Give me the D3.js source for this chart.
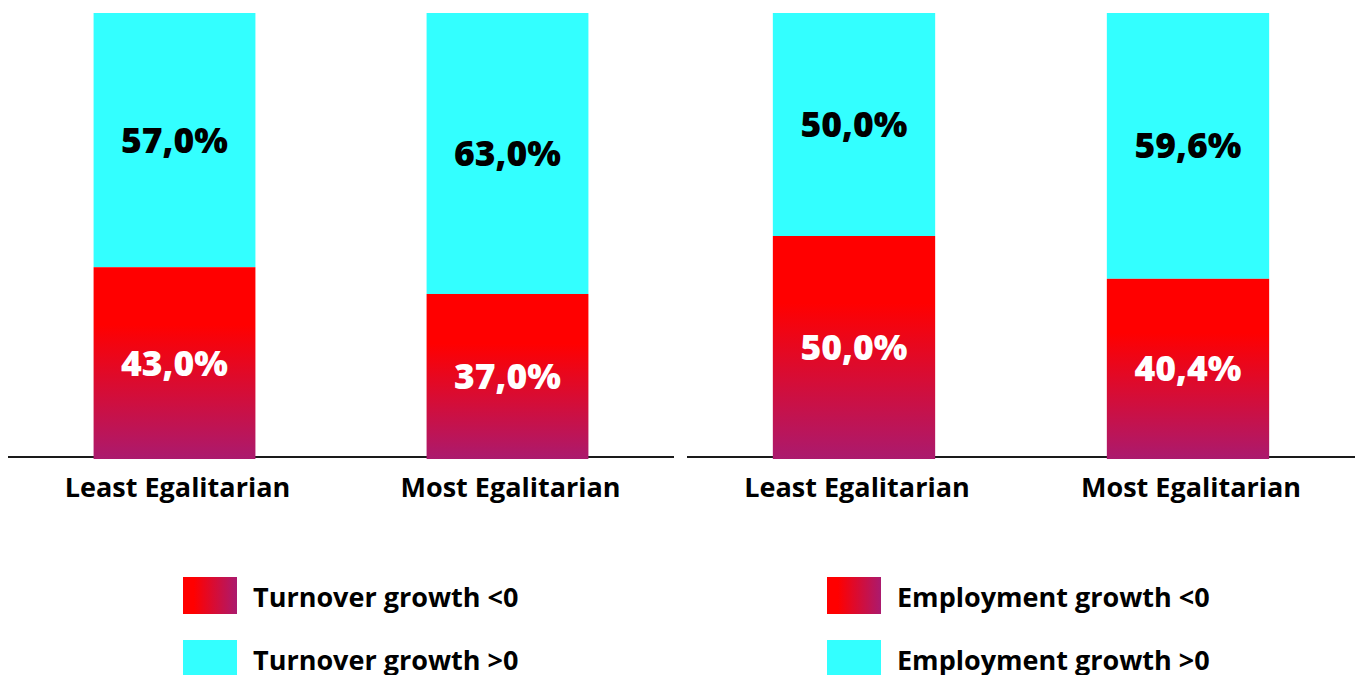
<!DOCTYPE html>
<html>
<head>
<meta charset="utf-8">
<script src="https://cdn.jsdelivr.net/npm/d3@7"></script>
<style>
  html, body { margin: 0; padding: 0; background: #ffffff; }
  svg { display: block; font-family: "Open Sans", sans-serif; }
</style>
</head>
<body>
<svg id="chart" width="1361" height="675"></svg>
<script>
// Share of firms by wage-equality group
const categories = ["Least Egalitarian", "Most Egalitarian"];
const turnoverNeg = [43.0, 37.0];
const turnoverPos = [57.0, 63.0];
const employmentNeg = [50.0, 40.4];
const employmentPos = [50.0, 59.6];
const legendTurnover = ["Turnover growth <0", "Turnover growth >0"];
const legendEmployment = ["Employment growth <0", "Employment growth >0"];

const CYAN = "#33ffff";
const svg = d3.select("#chart");
const defs = svg.append("defs");

// Vertical red-to-magenta fade used in the negative segment of each bar
const vg = defs.append("linearGradient").attr("id", "negV")
  .attr("x1", 0).attr("y1", 0).attr("x2", 0).attr("y2", 1);
vg.append("stop").attr("offset", "0.3").attr("stop-color", "#ff0000");
vg.append("stop").attr("offset", "1").attr("stop-color", "#ab1a6e");

// Horizontal version for legend swatches
const hg = defs.append("linearGradient").attr("id", "negH")
  .attr("x1", 0).attr("y1", 0).attr("x2", 1).attr("y2", 0);
hg.append("stop").attr("offset", "0.2").attr("stop-color", "#ff0000");
hg.append("stop").attr("offset", "1").attr("stop-color", "#ab1a6e");

const y = d3.scaleLinear().domain([0, 100]).range([459, 13]);
const fmt = v => d3.format(".1f")(v).replace(".", ",") + "%";

function panel(x0, x1, neg, pos, legend, legendX) {
  const x = d3.scaleBand().domain(categories).range([x0, x1])
    .paddingInner(0.514).paddingOuter(0.257);
  const g = svg.append("g");

  // baseline
  g.append("line")
    .attr("x1", x0).attr("x2", x1)
    .attr("y1", 457).attr("y2", 457)
    .attr("stroke", "#1a1a1a").attr("stroke-width", 2);

  const rows = categories.map((c, i) => ({ c, neg: neg[i], pos: pos[i] }));

  // positive segment (top)
  g.selectAll("rect.pos").data(rows).join("rect").attr("class", "pos")
    .attr("x", d => x(d.c)).attr("width", x.bandwidth())
    .attr("y", d => y(d.neg + d.pos)).attr("height", d => y(d.neg) - y(d.neg + d.pos))
    .attr("fill", CYAN);

  // negative segment (bottom)
  g.selectAll("rect.neg").data(rows).join("rect").attr("class", "neg")
    .attr("x", d => x(d.c)).attr("width", x.bandwidth())
    .attr("y", d => y(d.neg)).attr("height", d => y(0) - y(d.neg))
    .attr("fill", "url(#negV)");

  // value labels
  g.selectAll("text.pv").data(rows).join("text").attr("class", "pv")
    .attr("x", d => x(d.c) + x.bandwidth() / 2)
    .attr("y", d => (y(d.neg + d.pos) + y(d.neg)) / 2)
    .attr("dy", "0.35em").attr("text-anchor", "middle")
    .attr("font-size", 35.5).attr("font-weight", 800)
    .attr("fill", "#000")
    .text(d => fmt(d.pos));
  g.selectAll("text.nv").data(rows).join("text").attr("class", "nv")
    .attr("x", d => x(d.c) + x.bandwidth() / 2)
    .attr("y", d => (y(d.neg) + y(0)) / 2)
    .attr("dy", "0.35em").attr("text-anchor", "middle")
    .attr("font-size", 35.5).attr("font-weight", 800)
    .attr("fill", "#fff")
    .text(d => fmt(d.neg));

  // category labels
  g.selectAll("text.cat").data(categories).join("text").attr("class", "cat")
    .attr("x", d => x(d) + x.bandwidth() / 2 + 3)
    .attr("y", 497).attr("text-anchor", "middle")
    .attr("font-size", 27).attr("font-weight", 700).attr("fill", "#000")
    .text(d => d);

  // legend
  const lg = g.append("g");
  const fills = ["url(#negH)", CYAN];
  const ys = [577, 640];
  legend.forEach((t, i) => {
    lg.append("rect").attr("x", legendX).attr("y", ys[i])
      .attr("width", 54).attr("height", 37).attr("fill", fills[i]);
    lg.append("text").attr("x", legendX + 70).attr("y", ys[i] + 30)
      .attr("font-size", 27).attr("font-weight", 700).attr("fill", "#000")
      .text(t);
  });
}

panel(8, 674, turnoverNeg, turnoverPos, legendTurnover, 183);
panel(687, 1355, employmentNeg, employmentPos, legendEmployment, 827);
</script>
</body>
</html>
